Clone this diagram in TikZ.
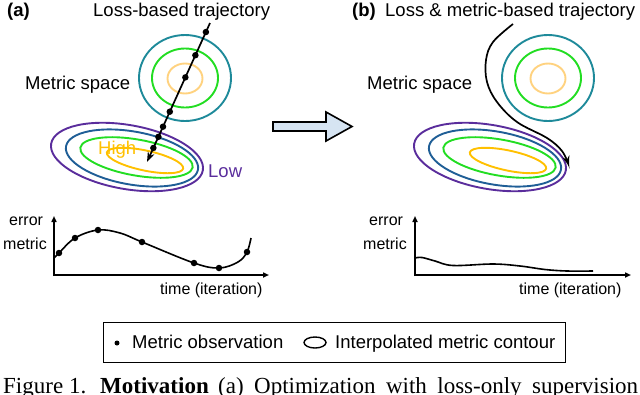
\documentclass[tikz,border=0pt]{standalone}
\usepackage{fontspec}
\setmainfont{Liberation Sans}
\newfontfamily\capfont{Liberation Serif}
\usetikzlibrary{arrows.meta}
\definecolor{cteal}{HTML}{1E8A9A}
\definecolor{cgreen}{HTML}{22DD22}
\definecolor{cpale}{HTML}{FFD27F}
\definecolor{cyellow}{HTML}{FFC000}
\definecolor{cblue}{HTML}{1F5E96}
\definecolor{cpurple}{HTML}{5A2D9C}
\definecolor{carrow}{HTML}{D6E4F2}
\tikzset{
  lab/.style={inner sep=0pt, anchor=base west, font=\fontsize{18.5}{20}\selectfont},
  small/.style={inner sep=0pt, anchor=base west, font=\fontsize{16}{18}\selectfont},
  contour/.style={line width=1.9pt},
  traj/.style={line width=1.7pt, -{Stealth[length=10pt,width=7pt]}},
  obsdot/.style={circle, fill=black, inner sep=0pt, minimum size=6.5pt},
  axis/.style={line width=1.7pt, -{Triangle[length=6pt,width=5pt]}},
  curve/.style={line width=1.6pt},
}
\begin{document}
\begin{tikzpicture}[x=1pt,y=-1pt]
\useasboundingbox (0,0) rectangle (640,394);
\clip (0,0) rectangle (640,394);

% ---------- panel (a) ----------
\node[lab, font=\fontsize{18.5}{20}\selectfont\bfseries] (la) at (7,16.5) {(a)};
\node[lab] (tla) at (93,16.5) {Loss-based trajectory};
\node[lab] (msa) at (25,89) {Metric space};

% metric circles
\draw[contour, cteal] (185,78) ellipse [x radius=46pt, y radius=43pt];
\draw[contour, cgreen] (185,78) ellipse [x radius=33pt, y radius=29.5pt];
\draw[contour, cpale] (185,78.5) ellipse [x radius=17.5pt, y radius=15pt];

% loss ellipses
\draw[contour, cpurple, rotate around={-10:(127,157)}] (127,157) ellipse [x radius=77pt, y radius=32pt];
\draw[contour, cblue, rotate around={-10:(132,158)}] (132,158) ellipse [x radius=67pt, y radius=26.5pt];
\draw[contour, cgreen, rotate around={-10:(136.5,157.5)}] (136.5,157.5) ellipse [x radius=57pt, y radius=18pt];
\draw[contour, cyellow, rotate around={-12:(145,160.5)}] (145,160.5) ellipse [x radius=39pt, y radius=10pt];

\node[lab, text=cyellow] (high) at (98,154) {High};
\node[lab, text=cpurple] (low) at (208,177) {Low};

% loss-based trajectory
\coordinate (ta0) at (210,23);
\coordinate (ta1) at (147,162);
\draw[traj] (ta0) -- (ta1);
\path (ta0) -- (ta1)
  node[obsdot, pos=0.065] (d1) {}
  node[obsdot, pos=0.232] (d2) {}
  node[obsdot, pos=0.391] (d3) {}
  node[obsdot, pos=0.638] (d4) {}
  node[obsdot, pos=0.746] (d5) {}
  node[obsdot, pos=0.819] (d6) {}
  node[obsdot, pos=0.899] (d7) {};

% ---------- big arrow ----------
\draw[line width=1.6pt, fill=carrow, line join=miter]
  (273,122) -- (326,122) -- (326,112) -- (352,126.5) -- (326,141) -- (326,131) -- (273,131) -- cycle;

% ---------- panel (b) ----------
\node[lab, font=\fontsize{18.5}{20}\selectfont\bfseries] (lb) at (352,16.5) {(b)};
\node[lab] (tlb) at (385,16.5) {Loss \& metric-based trajectory};
\node[lab] (msb) at (367,89) {Metric space};

\draw[contour, cteal] (548,78) ellipse [x radius=46pt, y radius=43pt];
\draw[contour, cgreen] (548,78) ellipse [x radius=33pt, y radius=29.5pt];
\draw[contour, cpale] (548,78.5) ellipse [x radius=17.5pt, y radius=15pt];

\draw[contour, cpurple, rotate around={-10:(490,157)}] (490,157) ellipse [x radius=77pt, y radius=32pt];
\draw[contour, cblue, rotate around={-10:(495,158)}] (495,158) ellipse [x radius=67pt, y radius=26.5pt];
\draw[contour, cgreen, rotate around={-10:(499.5,157.5)}] (499.5,157.5) ellipse [x radius=57pt, y radius=18pt];
\draw[contour, cyellow, rotate around={-12:(508,160.5)}] (508,160.5) ellipse [x radius=39pt, y radius=10pt];

\draw[traj] plot[smooth, tension=0.6] coordinates {(513,24) (493,42) (486,60) (487,82) (497,102) (517,122) (547,138) (562,151) (569,166)};

% ---------- plot (a) ----------
\coordinate (ya) at (54,216);
\coordinate (xa) at (269,275);
\coordinate (oay) at (54,276);
\coordinate (oax) at (53.2,275);
\draw[axis] (oay) -- (ya);
\draw[axis] (oax) -- (xa);
\draw[curve] plot[smooth, tension=0.6] coordinates {(54,258) (59,253) (75,238) (98,230) (120,233) (142,242) (194,263) (219,268) (238,262) (247,252) (251,238)};
\node[obsdot] (pa1) at (59,253) {};
\node[obsdot] (pa2) at (75,238) {};
\node[obsdot] (pa3) at (98,230) {};
\node[obsdot] (pa4) at (142,242) {};
\node[obsdot] (pa5) at (194,263) {};
\node[obsdot] (pa6) at (219,268) {};
\node[obsdot] (pa7) at (247,252) {};
\node[small] (ea) at (9,225) {error};
\node[small] (ma) at (3,249) {metric};
\node[small] (tia) at (160,294) {time (iteration)};

% ---------- plot (b) ----------
\coordinate (yb) at (415,216);
\coordinate (xb) at (631,275);
\coordinate (oby) at (415,276);
\coordinate (obx) at (414.2,275);
\draw[axis] (oby) -- (yb);
\draw[axis] (obx) -- (xb);
\draw[curve] plot[smooth, tension=0.6] coordinates {(415,258) (422,257.5) (435,261) (453,265.5) (493,264) (520,266) (545,269.5) (567,271) (593,271)};
\node[small] (eb) at (369,225) {error};
\node[small] (mb) at (363,249) {metric};
\node[small] (tib) at (519,294) {time (iteration)};

% ---------- legend ----------
\node[draw, line width=1.3pt, minimum width=462pt, minimum height=40pt, anchor=north west, inner sep=0pt] (legend) at (103,322) {};
\node[circle, fill=black, inner sep=0pt, minimum size=5pt] (lgdot) at (117,343) {};
\node[lab] (lgt1) at (132,348) {Metric observation};
\draw[line width=1.4pt] (315,342.5) ellipse [x radius=11pt, y radius=5.5pt];
\node[lab] (lgt2) at (335,348) {Interpolated metric contour};

% ---------- caption ----------
\node[inner sep=0pt, anchor=base west, font=\capfont\fontsize{23}{25}\selectfont] (cap1) at (3,393) {Figure 1.};
\node[inner sep=0pt, anchor=base west, font=\capfont\fontsize{23}{25}\selectfont\bfseries] (cap2) at (100,393) {Motivation};
\node[inner sep=0pt, anchor=base west, font=\capfont\fontsize{23}{25}\selectfont] (cap3) at (218,393) {\makebox[420pt][s]{(a) Optimization with loss-only supervision}};
\end{tikzpicture}
\end{document}
